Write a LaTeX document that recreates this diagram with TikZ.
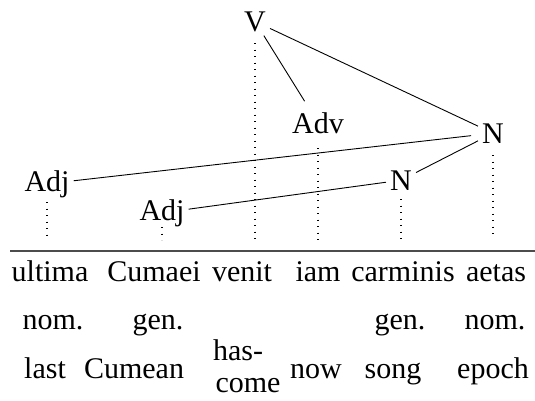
\documentclass[tikz,border=0pt]{standalone}
\usepackage{fontspec}
\setmainfont{Liberation Serif}
\begin{document}
\begin{tikzpicture}[x=1pt,y=-1pt,
  font=\fontsize{30}{36}\selectfont,
  lab/.style={anchor=base, inner sep=0pt},
  cat/.style={anchor=base, inner sep=4pt},
  edge/.style={line width=0.9pt},
  guide/.style={line width=1.1pt, dash pattern=on 1.2pt off 5.3pt},
  rulestyle/.style={line width=1.2pt, black!70}]
\useasboundingbox (0,0) rectangle (535,400);
% tree nodes
\node[cat] (V)   at (255,31)  {V};
\node[cat] (Adv) at (318,133) {Adv};
\node[cat] (N1)  at (493,143) {N};
\node[cat] (N2)  at (401,190) {N};
\node[cat] (A1)  at (47,191)  {Adj};
\node[cat] (A2)  at (162,220) {Adj};
% connectors
\draw[edge] (V) -- (N1);
\draw[edge, shorten >=8pt] (V) -- (Adv);
\draw[edge, shorten >=7pt] (A1) -- (N1);
\draw[edge] (A2) -- (N2);
\draw[edge] (N2) -- (N1);
% floor and rule
\coordinate (floor) at (0,240);
\coordinate (ruleL) at (10,251);
\coordinate (ruleR) at (535,251);
\draw[rulestyle] (ruleL) -- (ruleR);
% guides
\draw[guide] ([yshift=-12pt]V.base)   -- (V.base |- floor);
\draw[guide] ([yshift=-15pt]Adv.base) -- (Adv.base |- floor);
\draw[guide] ([yshift=-12pt]N1.base)  -- ([yshift=5pt]N1.base |- floor);
\draw[guide] ([yshift=-9pt]N2.base)   -- (N2.base |- floor);
\draw[guide] ([yshift=-11pt]A1.base)  -- (A1.base |- floor);
\draw[guide] ([yshift=-7pt]A2.base)   -- (A2.base |- floor);
% words
\node[lab] (w1) at (50,281)  {ultima};
\node[lab] (w2) at (154,281) {Cumaei};
\node[lab] (w3) at (242,281) {venit};
\node[lab] (w4) at (318,281) {iam};
\node[lab] (w5) at (403,281) {carminis};
\node[lab] (w6) at (496,281) {aetas};
% case
\node[lab] (c1) at (53,329)  {nom.};
\node[lab] (c2) at (158,329) {gen.};
\node[lab] (c5) at (400,329) {gen.};
\node[lab] (c6) at (495,329) {nom.};
% glosses
\node[lab] (g1) at (45,378)  {last};
\node[lab] (g2) at (134,378) {Cumean};
\node[lab] (g3a) at (238,360) {has-};
\node[lab] (g3b) at (248,392) {come};
\node[lab] (g4) at (316,378) {now};
\node[lab] (g5) at (393,378) {song};
\node[lab] (g6) at (493,378) {epoch};
\end{tikzpicture}
\end{document}
